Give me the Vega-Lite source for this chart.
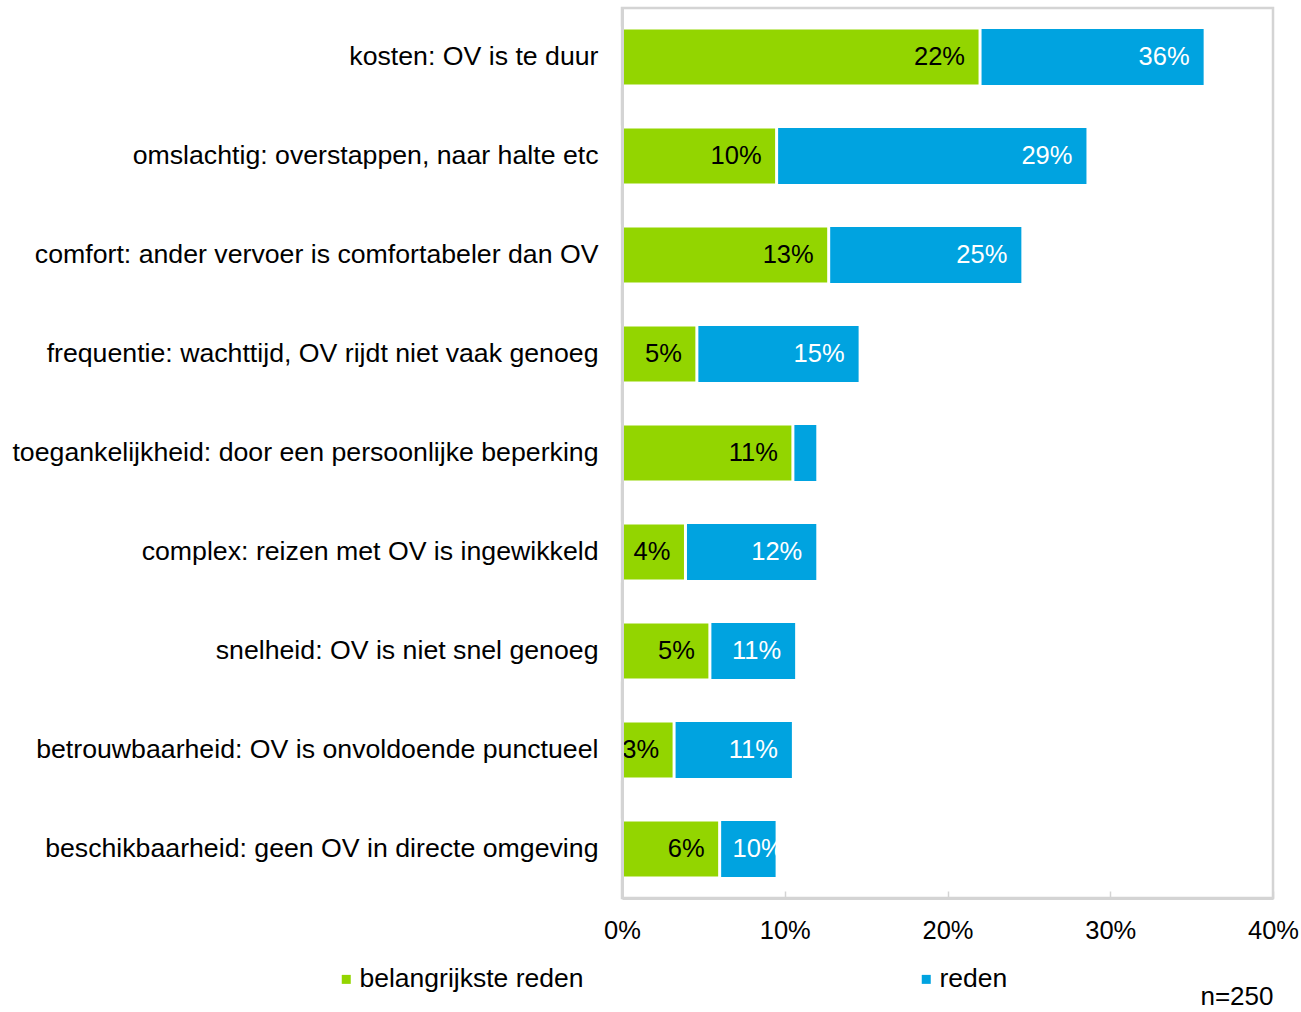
{
  "$schema": "https://vega.github.io/schema/vega-lite/v6.json",
  "autosize": {"type": "none"},
  "padding": {"left": 622, "top": 8, "right": 28, "bottom": 114},
  "width": 651,
  "height": 890,
  "config": {
    "font": "Liberation Sans",
    "view": {"stroke": "#d4d4d4", "strokeWidth": 2.5}
  },
  "data": {
    "values": [
      {"categorie": "kosten: OV is te duur", "belangrijkste": 0.220, "reden": 0.358, "lb": "22%", "lr": "36%"},
      {"categorie": "omslachtig: overstappen, naar halte etc", "belangrijkste": 0.095, "reden": 0.286, "lb": "10%", "lr": "29%"},
      {"categorie": "comfort: ander vervoer is comfortabeler dan OV", "belangrijkste": 0.127, "reden": 0.246, "lb": "13%", "lr": "25%"},
      {"categorie": "frequentie: wachttijd, OV rijdt niet vaak genoeg", "belangrijkste": 0.046, "reden": 0.146, "lb": "5%", "lr": "15%"},
      {"categorie": "toegankelijkheid: door een persoonlijke beperking", "belangrijkste": 0.105, "reden": 0.120, "lb": "11%", "lr": ""},
      {"categorie": "complex: reizen met OV is ingewikkeld", "belangrijkste": 0.039, "reden": 0.120, "lb": "4%", "lr": "12%"},
      {"categorie": "snelheid: OV is niet snel genoeg", "belangrijkste": 0.054, "reden": 0.107, "lb": "5%", "lr": "11%"},
      {"categorie": "betrouwbaarheid: OV is onvoldoende punctueel", "belangrijkste": 0.032, "reden": 0.105, "lb": "3%", "lr": "11%"},
      {"categorie": "beschikbaarheid: geen OV in directe omgeving", "belangrijkste": 0.060, "reden": 0.095, "lb": "6%", "lr": "10%"}
    ]
  },
  "encoding": {
    "y": {
      "field": "categorie",
      "type": "nominal",
      "sort": null,
      "scale": {"paddingInner": 0.414, "paddingOuter": 0.202},
      "axis": {
        "title": null,
        "ticks": false,
        "labelPadding": 24,
        "labelFontSize": 26.7,
        "labelColor": "#000000",
        "labelLimit": 700,
        "domainColor": "#d4d4d4",
        "domainWidth": 3,
        "zindex": 1
      }
    }
  },
  "layer": [
    {
      "mark": {"type": "bar", "stroke": "white", "strokeWidth": 2},
      "encoding": {
        "x": {
          "field": "reden",
          "type": "quantitative",
          "scale": {"domain": [0, 0.4], "nice": false},
          "axis": {
            "values": [0, 0.1, 0.2, 0.3, 0.4],
            "format": ".0%",
            "grid": false,
            "tickSize": -7,
            "tickColor": "#d4d4d4",
            "tickWidth": 1.5,
            "labelPadding": 27,
            "labelFontSize": 25.5,
            "labelColor": "#000000",
            "labelFlush": false,
            "domainColor": "#d4d4d4",
            "domainWidth": 3,
            "zindex": 1,
            "title": "n=250",
            "titleFontSize": 26,
            "titleFontWeight": "normal",
            "titleColor": "#000000",
            "titleAnchor": "end",
            "titlePadding": 40
          }
        },
        "color": {"datum": "reden"}
      }
    },
    {
      "mark": {"type": "bar", "stroke": "white", "strokeWidth": 3},
      "encoding": {
        "x": {"field": "belangrijkste", "type": "quantitative"},
        "color": {
          "datum": "belangrijkste reden",
          "scale": {"domain": ["belangrijkste reden", "reden"], "range": ["#93d500", "#00a3e0"]},
          "legend": {
            "title": null,
            "orient": "none",
            "legendX": -289,
            "legendY": 958,
            "direction": "horizontal",
            "symbolType": "square",
            "symbolSize": 81,
            "symbolStrokeWidth": 0,
            "labelFontSize": 26.5,
            "labelColor": "#000000",
            "labelOffset": 0,
            "labelLimit": 600,
            "columnPadding": 329,
            "padding": 0
          }
        }
      }
    },
    {
      "mark": {"type": "text", "align": "right", "baseline": "middle", "dx": -15, "fontSize": 25.5, "color": "#000000"},
      "encoding": {
        "x": {"field": "belangrijkste", "type": "quantitative"},
        "text": {"field": "lb"}
      }
    },
    {
      "transform": [{"filter": "datum.categorie !== 'beschikbaarheid: geen OV in directe omgeving'"}],
      "mark": {"type": "text", "align": "right", "baseline": "middle", "dx": -15, "fontSize": 25.5, "color": "#ffffff"},
      "encoding": {
        "x": {"field": "reden", "type": "quantitative"},
        "text": {"field": "lr"}
      }
    },
    {
      "transform": [{"filter": "datum.categorie === 'beschikbaarheid: geen OV in directe omgeving'"}],
      "mark": {"type": "text", "align": "right", "baseline": "middle", "dx": 7, "fontSize": 25.5, "color": "#ffffff"},
      "encoding": {
        "x": {"field": "reden", "type": "quantitative"},
        "text": {"field": "lr"}
      }
    }
  ]
}
